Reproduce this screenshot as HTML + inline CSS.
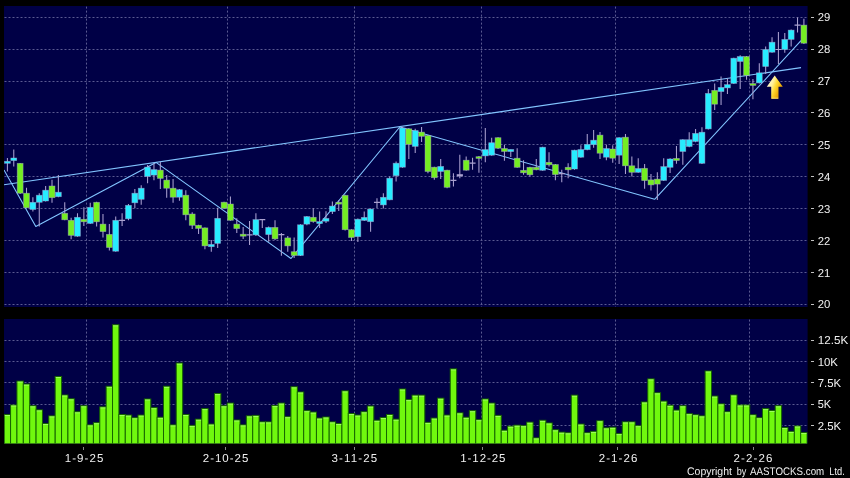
<!DOCTYPE html>
<html><head><meta charset="utf-8"><title>Chart</title><style>html,body{margin:0;padding:0;background:#000;overflow:hidden}body{width:850px;height:478px;font-family:"Liberation Sans",sans-serif}</style></head><body>
<svg width="850" height="478" viewBox="0 0 850 478" style="display:block">
<defs><linearGradient id="ag" gradientUnits="userSpaceOnUse" x1="767" y1="84" x2="782.5" y2="90"><stop offset="0" stop-color="#fff9cc"/><stop offset="0.3" stop-color="#fff09a"/><stop offset="0.52" stop-color="#ffda34"/><stop offset="0.78" stop-color="#efb00c"/><stop offset="1" stop-color="#d89000"/></linearGradient>
<clipPath id="c1"><rect x="4" y="6" width="803.6" height="301"/></clipPath><clipPath id="c2"><rect x="4" y="319" width="803.6" height="124.5"/></clipPath></defs>
<rect width="850" height="478" fill="#000"/>
<rect x="4" y="6" width="803.6" height="301" fill="#000046"/>
<rect x="4" y="319" width="803.6" height="124.5" fill="#000046"/>
<g stroke="#9c9cc8" stroke-width="1" stroke-dasharray="2 2" fill="none" opacity="0.58">
<path d="M4.5 304.5H807.6"/>
<path d="M4.5 272.5H807.6"/>
<path d="M4.5 240.5H807.6"/>
<path d="M4.5 208.5H807.6"/>
<path d="M4.5 176.5H807.6"/>
<path d="M4.5 144.5H807.6"/>
<path d="M4.5 112.5H807.6"/>
<path d="M4.5 81.5H807.6"/>
<path d="M4.5 49.5H807.6"/>
<path d="M4.5 17.5H807.6"/>
<path d="M4.5 340.5H807.6"/>
<path d="M4.5 361.5H807.6"/>
<path d="M4.5 382.5H807.6"/>
<path d="M4.5 404.5H807.6"/>
<path d="M4.5 425.5H807.6"/>
<path d="M86.5 6.6V307" shape-rendering="auto"/>
<path d="M86.5 319.6V443.5" shape-rendering="auto"/>
<path d="M227.5 6.6V307" shape-rendering="auto"/>
<path d="M227.5 319.6V443.5" shape-rendering="auto"/>
<path d="M354.5 6.6V307" shape-rendering="auto"/>
<path d="M354.5 319.6V443.5" shape-rendering="auto"/>
<path d="M481.5 6.6V307" shape-rendering="auto"/>
<path d="M481.5 319.6V443.5" shape-rendering="auto"/>
<path d="M615.5 6.6V307" shape-rendering="auto"/>
<path d="M615.5 319.6V443.5" shape-rendering="auto"/>
<path d="M749.5 6.6V307" shape-rendering="auto"/>
<path d="M749.5 319.6V443.5" shape-rendering="auto"/>
</g>
<g clip-path="url(#c2)" fill="#70f80e" stroke="#166400" stroke-width="1">
<rect x="4.20" y="414.5" width="6.4" height="45.5"/>
<rect x="10.57" y="405.0" width="6.4" height="55.0"/>
<rect x="16.94" y="381.1" width="6.4" height="78.9"/>
<rect x="23.32" y="384.1" width="6.4" height="75.9"/>
<rect x="29.69" y="405.8" width="6.4" height="54.2"/>
<rect x="36.06" y="409.9" width="6.4" height="50.1"/>
<rect x="42.43" y="423.5" width="6.4" height="36.5"/>
<rect x="48.80" y="415.9" width="6.4" height="44.1"/>
<rect x="55.18" y="376.5" width="6.4" height="83.5"/>
<rect x="61.55" y="395.0" width="6.4" height="65.0"/>
<rect x="67.92" y="398.8" width="6.4" height="61.2"/>
<rect x="74.29" y="411.8" width="6.4" height="48.2"/>
<rect x="80.66" y="405.8" width="6.4" height="54.2"/>
<rect x="87.04" y="424.9" width="6.4" height="35.1"/>
<rect x="93.41" y="422.7" width="6.4" height="37.3"/>
<rect x="99.78" y="406.9" width="6.4" height="53.1"/>
<rect x="106.15" y="386.3" width="6.4" height="73.7"/>
<rect x="112.52" y="324.8" width="6.4" height="135.2"/>
<rect x="118.90" y="414.5" width="6.4" height="45.5"/>
<rect x="125.27" y="415.1" width="6.4" height="44.9"/>
<rect x="131.64" y="417.8" width="6.4" height="42.2"/>
<rect x="138.01" y="415.1" width="6.4" height="44.9"/>
<rect x="144.38" y="399.0" width="6.4" height="61.0"/>
<rect x="150.76" y="407.7" width="6.4" height="52.3"/>
<rect x="157.13" y="417.3" width="6.4" height="42.7"/>
<rect x="163.50" y="386.3" width="6.4" height="73.7"/>
<rect x="169.87" y="424.9" width="6.4" height="35.1"/>
<rect x="176.24" y="363.1" width="6.4" height="96.9"/>
<rect x="182.62" y="414.5" width="6.4" height="45.5"/>
<rect x="188.99" y="425.4" width="6.4" height="34.6"/>
<rect x="195.36" y="419.2" width="6.4" height="40.8"/>
<rect x="201.73" y="408.6" width="6.4" height="51.4"/>
<rect x="208.10" y="424.1" width="6.4" height="35.9"/>
<rect x="214.48" y="393.6" width="6.4" height="66.4"/>
<rect x="220.85" y="405.8" width="6.4" height="54.2"/>
<rect x="227.22" y="403.1" width="6.4" height="56.9"/>
<rect x="233.59" y="420.0" width="6.4" height="40.0"/>
<rect x="239.96" y="424.9" width="6.4" height="35.1"/>
<rect x="246.34" y="415.9" width="6.4" height="44.1"/>
<rect x="252.71" y="415.4" width="6.4" height="44.6"/>
<rect x="259.08" y="421.9" width="6.4" height="38.1"/>
<rect x="265.45" y="421.9" width="6.4" height="38.1"/>
<rect x="271.82" y="405.6" width="6.4" height="54.4"/>
<rect x="278.20" y="403.1" width="6.4" height="56.9"/>
<rect x="284.57" y="416.7" width="6.4" height="43.3"/>
<rect x="290.94" y="386.8" width="6.4" height="73.2"/>
<rect x="297.31" y="392.0" width="6.4" height="68.0"/>
<rect x="303.68" y="410.7" width="6.4" height="49.3"/>
<rect x="310.06" y="412.1" width="6.4" height="47.9"/>
<rect x="316.43" y="418.1" width="6.4" height="41.9"/>
<rect x="322.80" y="417.0" width="6.4" height="43.0"/>
<rect x="329.17" y="421.9" width="6.4" height="38.1"/>
<rect x="335.54" y="423.5" width="6.4" height="36.5"/>
<rect x="341.92" y="390.9" width="6.4" height="69.1"/>
<rect x="348.29" y="413.5" width="6.4" height="46.5"/>
<rect x="354.66" y="415.1" width="6.4" height="44.9"/>
<rect x="361.03" y="411.8" width="6.4" height="48.2"/>
<rect x="367.40" y="406.1" width="6.4" height="53.9"/>
<rect x="373.78" y="420.3" width="6.4" height="39.7"/>
<rect x="380.15" y="417.5" width="6.4" height="42.5"/>
<rect x="386.52" y="414.5" width="6.4" height="45.5"/>
<rect x="392.89" y="419.2" width="6.4" height="40.8"/>
<rect x="399.26" y="389.0" width="6.4" height="71.0"/>
<rect x="405.64" y="399.6" width="6.4" height="60.4"/>
<rect x="412.01" y="395.2" width="6.4" height="64.8"/>
<rect x="418.38" y="395.2" width="6.4" height="64.8"/>
<rect x="424.75" y="422.4" width="6.4" height="37.6"/>
<rect x="431.12" y="418.1" width="6.4" height="41.9"/>
<rect x="437.50" y="398.2" width="6.4" height="61.8"/>
<rect x="443.87" y="415.1" width="6.4" height="44.9"/>
<rect x="450.24" y="368.9" width="6.4" height="91.1"/>
<rect x="456.61" y="412.9" width="6.4" height="47.1"/>
<rect x="462.98" y="417.3" width="6.4" height="42.7"/>
<rect x="469.36" y="410.7" width="6.4" height="49.3"/>
<rect x="475.73" y="419.7" width="6.4" height="40.3"/>
<rect x="482.10" y="399.0" width="6.4" height="61.0"/>
<rect x="488.47" y="403.1" width="6.4" height="56.9"/>
<rect x="494.84" y="415.4" width="6.4" height="44.6"/>
<rect x="501.22" y="430.3" width="6.4" height="29.7"/>
<rect x="507.59" y="426.2" width="6.4" height="33.8"/>
<rect x="513.96" y="425.2" width="6.4" height="34.8"/>
<rect x="520.33" y="425.7" width="6.4" height="34.3"/>
<rect x="526.70" y="422.2" width="6.4" height="37.8"/>
<rect x="533.08" y="437.9" width="6.4" height="22.1"/>
<rect x="539.45" y="420.3" width="6.4" height="39.7"/>
<rect x="545.82" y="423.0" width="6.4" height="37.0"/>
<rect x="552.19" y="429.8" width="6.4" height="30.2"/>
<rect x="558.56" y="432.2" width="6.4" height="27.8"/>
<rect x="564.94" y="432.8" width="6.4" height="27.2"/>
<rect x="571.31" y="395.2" width="6.4" height="64.8"/>
<rect x="577.68" y="424.1" width="6.4" height="35.9"/>
<rect x="584.05" y="432.8" width="6.4" height="27.2"/>
<rect x="590.42" y="431.4" width="6.4" height="28.6"/>
<rect x="596.80" y="420.8" width="6.4" height="39.2"/>
<rect x="603.17" y="427.9" width="6.4" height="32.1"/>
<rect x="609.54" y="427.3" width="6.4" height="32.7"/>
<rect x="615.91" y="433.6" width="6.4" height="26.4"/>
<rect x="622.28" y="421.9" width="6.4" height="38.1"/>
<rect x="628.66" y="421.9" width="6.4" height="38.1"/>
<rect x="635.03" y="425.7" width="6.4" height="34.3"/>
<rect x="641.40" y="402.0" width="6.4" height="58.0"/>
<rect x="647.77" y="378.9" width="6.4" height="81.1"/>
<rect x="654.14" y="392.8" width="6.4" height="67.2"/>
<rect x="660.52" y="401.2" width="6.4" height="58.8"/>
<rect x="666.89" y="405.3" width="6.4" height="54.7"/>
<rect x="673.26" y="410.2" width="6.4" height="49.8"/>
<rect x="679.63" y="405.8" width="6.4" height="54.2"/>
<rect x="686.00" y="413.7" width="6.4" height="46.3"/>
<rect x="692.38" y="414.8" width="6.4" height="45.2"/>
<rect x="698.75" y="415.9" width="6.4" height="44.1"/>
<rect x="705.12" y="371.0" width="6.4" height="89.0"/>
<rect x="711.49" y="396.1" width="6.4" height="63.9"/>
<rect x="717.86" y="403.9" width="6.4" height="56.1"/>
<rect x="724.24" y="411.8" width="6.4" height="48.2"/>
<rect x="730.61" y="395.0" width="6.4" height="65.0"/>
<rect x="736.98" y="405.0" width="6.4" height="55.0"/>
<rect x="743.35" y="405.0" width="6.4" height="55.0"/>
<rect x="749.72" y="414.8" width="6.4" height="45.2"/>
<rect x="756.10" y="417.8" width="6.4" height="42.2"/>
<rect x="762.47" y="408.6" width="6.4" height="51.4"/>
<rect x="768.84" y="410.5" width="6.4" height="49.5"/>
<rect x="775.21" y="405.8" width="6.4" height="54.2"/>
<rect x="781.58" y="427.6" width="6.4" height="32.4"/>
<rect x="787.96" y="431.4" width="6.4" height="28.6"/>
<rect x="794.33" y="426.0" width="6.4" height="34.0"/>
<rect x="800.70" y="432.5" width="6.4" height="27.5"/>
</g>
<g clip-path="url(#c2)" stroke="#b4ff8a" stroke-width="1" fill="none" opacity="0.7">
<path d="M4.80 415.5H10.00"/>
<path d="M11.17 406.0H16.37"/>
<path d="M17.54 382.1H22.74"/>
<path d="M23.92 385.1H29.12"/>
<path d="M30.29 406.8H35.49"/>
<path d="M36.66 410.9H41.86"/>
<path d="M43.03 424.5H48.23"/>
<path d="M49.40 416.9H54.60"/>
<path d="M55.78 377.5H60.98"/>
<path d="M62.15 396.0H67.35"/>
<path d="M68.52 399.8H73.72"/>
<path d="M74.89 412.8H80.09"/>
<path d="M81.26 406.8H86.46"/>
<path d="M87.64 425.9H92.84"/>
<path d="M94.01 423.7H99.21"/>
<path d="M100.38 407.9H105.58"/>
<path d="M106.75 387.3H111.95"/>
<path d="M113.12 325.8H118.32"/>
<path d="M119.50 415.5H124.70"/>
<path d="M125.87 416.1H131.07"/>
<path d="M132.24 418.8H137.44"/>
<path d="M138.61 416.1H143.81"/>
<path d="M144.98 400.0H150.18"/>
<path d="M151.36 408.7H156.56"/>
<path d="M157.73 418.3H162.93"/>
<path d="M164.10 387.3H169.30"/>
<path d="M170.47 425.9H175.67"/>
<path d="M176.84 364.1H182.04"/>
<path d="M183.22 415.5H188.42"/>
<path d="M189.59 426.4H194.79"/>
<path d="M195.96 420.2H201.16"/>
<path d="M202.33 409.6H207.53"/>
<path d="M208.70 425.1H213.90"/>
<path d="M215.08 394.6H220.28"/>
<path d="M221.45 406.8H226.65"/>
<path d="M227.82 404.1H233.02"/>
<path d="M234.19 421.0H239.39"/>
<path d="M240.56 425.9H245.76"/>
<path d="M246.94 416.9H252.14"/>
<path d="M253.31 416.4H258.51"/>
<path d="M259.68 422.9H264.88"/>
<path d="M266.05 422.9H271.25"/>
<path d="M272.42 406.6H277.62"/>
<path d="M278.80 404.1H284.00"/>
<path d="M285.17 417.7H290.37"/>
<path d="M291.54 387.8H296.74"/>
<path d="M297.91 393.0H303.11"/>
<path d="M304.28 411.7H309.48"/>
<path d="M310.66 413.1H315.86"/>
<path d="M317.03 419.1H322.23"/>
<path d="M323.40 418.0H328.60"/>
<path d="M329.77 422.9H334.97"/>
<path d="M336.14 424.5H341.34"/>
<path d="M342.52 391.9H347.72"/>
<path d="M348.89 414.5H354.09"/>
<path d="M355.26 416.1H360.46"/>
<path d="M361.63 412.8H366.83"/>
<path d="M368.00 407.1H373.20"/>
<path d="M374.38 421.3H379.58"/>
<path d="M380.75 418.5H385.95"/>
<path d="M387.12 415.5H392.32"/>
<path d="M393.49 420.2H398.69"/>
<path d="M399.86 390.0H405.06"/>
<path d="M406.24 400.6H411.44"/>
<path d="M412.61 396.2H417.81"/>
<path d="M418.98 396.2H424.18"/>
<path d="M425.35 423.4H430.55"/>
<path d="M431.72 419.1H436.92"/>
<path d="M438.10 399.2H443.30"/>
<path d="M444.47 416.1H449.67"/>
<path d="M450.84 369.9H456.04"/>
<path d="M457.21 413.9H462.41"/>
<path d="M463.58 418.3H468.78"/>
<path d="M469.96 411.7H475.16"/>
<path d="M476.33 420.7H481.53"/>
<path d="M482.70 400.0H487.90"/>
<path d="M489.07 404.1H494.27"/>
<path d="M495.44 416.4H500.64"/>
<path d="M501.82 431.3H507.02"/>
<path d="M508.19 427.2H513.39"/>
<path d="M514.56 426.2H519.76"/>
<path d="M520.93 426.7H526.13"/>
<path d="M527.30 423.2H532.50"/>
<path d="M533.68 438.9H538.88"/>
<path d="M540.05 421.3H545.25"/>
<path d="M546.42 424.0H551.62"/>
<path d="M552.79 430.8H557.99"/>
<path d="M559.16 433.2H564.36"/>
<path d="M565.54 433.8H570.74"/>
<path d="M571.91 396.2H577.11"/>
<path d="M578.28 425.1H583.48"/>
<path d="M584.65 433.8H589.85"/>
<path d="M591.02 432.4H596.22"/>
<path d="M597.40 421.8H602.60"/>
<path d="M603.77 428.9H608.97"/>
<path d="M610.14 428.3H615.34"/>
<path d="M616.51 434.6H621.71"/>
<path d="M622.88 422.9H628.08"/>
<path d="M629.26 422.9H634.46"/>
<path d="M635.63 426.7H640.83"/>
<path d="M642.00 403.0H647.20"/>
<path d="M648.37 379.9H653.57"/>
<path d="M654.74 393.8H659.94"/>
<path d="M661.12 402.2H666.32"/>
<path d="M667.49 406.3H672.69"/>
<path d="M673.86 411.2H679.06"/>
<path d="M680.23 406.8H685.43"/>
<path d="M686.60 414.7H691.80"/>
<path d="M692.98 415.8H698.18"/>
<path d="M699.35 416.9H704.55"/>
<path d="M705.72 372.0H710.92"/>
<path d="M712.09 397.1H717.29"/>
<path d="M718.46 404.9H723.66"/>
<path d="M724.84 412.8H730.04"/>
<path d="M731.21 396.0H736.41"/>
<path d="M737.58 406.0H742.78"/>
<path d="M743.95 406.0H749.15"/>
<path d="M750.32 415.8H755.52"/>
<path d="M756.70 418.8H761.90"/>
<path d="M763.07 409.6H768.27"/>
<path d="M769.44 411.5H774.64"/>
<path d="M775.81 406.8H781.01"/>
<path d="M782.18 428.6H787.38"/>
<path d="M788.56 432.4H793.76"/>
<path d="M794.93 427.0H800.13"/>
<path d="M801.30 433.5H806.50"/>
</g>
<g clip-path="url(#c1)" stroke="#82c5ff" stroke-width="1.1" fill="none" stroke-linejoin="round">
<path d="M4 184.7L801 67.6"/>
<path d="M4 170L35.8 226.4L156 162.4L291 258.5L399.8 127L654.6 199.3L801 40.7"/>
</g>
<g clip-path="url(#c1)">
<g stroke="#aaa1d0" stroke-width="1.05" fill="none">
<path d="M7.40 158.0V171.4"/>
<path d="M13.77 149.5V166.4"/>
<path d="M20.14 163.0V194.0"/>
<path d="M26.52 187.7V208.3"/>
<path d="M32.89 197.2V211.5"/>
<path d="M39.26 193.2V226.6"/>
<path d="M45.63 186.0V201.5"/>
<path d="M52.00 179.7V202.8"/>
<path d="M58.38 175.1V197.2"/>
<path d="M64.75 202.3V220.3"/>
<path d="M71.12 217.8V239.2"/>
<path d="M77.49 213.3V236.7"/>
<path d="M83.86 207.3V226.1"/>
<path d="M90.24 202.8V224.1"/>
<path d="M96.61 201.8V226.6"/>
<path d="M102.98 214.0V237.4"/>
<path d="M109.35 224.1V250.5"/>
<path d="M115.72 216.6V251.7"/>
<path d="M122.10 213.3V225.9"/>
<path d="M128.47 204.0V220.3"/>
<path d="M134.84 189.0V208.3"/>
<path d="M141.21 185.2V204.8"/>
<path d="M147.58 165.1V183.2"/>
<path d="M153.96 163.1V180.2"/>
<path d="M160.33 162.1V189.0"/>
<path d="M166.70 175.1V197.7"/>
<path d="M173.07 178.9V202.7"/>
<path d="M179.44 189.0V200.7"/>
<path d="M185.82 190.2V220.3"/>
<path d="M192.19 212.3V229.1"/>
<path d="M198.56 224.8V234.1"/>
<path d="M204.93 227.4V249.2"/>
<path d="M211.30 239.9V251.7"/>
<path d="M217.68 207.8V247.9"/>
<path d="M224.05 201.7V209.0"/>
<path d="M230.42 196.5V220.8"/>
<path d="M236.79 218.3V232.9"/>
<path d="M243.16 227.0V239.0"/>
<path d="M249.54 221.1V244.9"/>
<path d="M255.91 213.3V235.9"/>
<path d="M262.28 219.6V227.9"/>
<path d="M268.65 226.6V241.7"/>
<path d="M275.02 220.3V239.9"/>
<path d="M281.40 233.0V255.7"/>
<path d="M287.77 235.9V251.7"/>
<path d="M294.14 237.4V258.0"/>
<path d="M300.51 224.3V256.0"/>
<path d="M306.88 216.0V225.3"/>
<path d="M313.26 208.3V222.8"/>
<path d="M319.63 211.5V227.9"/>
<path d="M326.00 211.2V223.1"/>
<path d="M332.37 201.6V214.1"/>
<path d="M338.74 200.3V210.9"/>
<path d="M345.12 194.8V230.5"/>
<path d="M351.49 229.2V241.0"/>
<path d="M357.86 218.4V242.0"/>
<path d="M364.23 211.6V220.9"/>
<path d="M370.60 208.4V231.7"/>
<path d="M376.98 198.3V207.9"/>
<path d="M383.35 193.3V208.4"/>
<path d="M389.72 176.5V200.3"/>
<path d="M396.09 161.4V181.5"/>
<path d="M402.46 127.0V167.7"/>
<path d="M408.84 128.0V158.9"/>
<path d="M415.21 128.8V153.1"/>
<path d="M421.58 127.0V142.1"/>
<path d="M427.95 135.1V173.2"/>
<path d="M434.32 166.7V179.8"/>
<path d="M440.70 158.9V179.0"/>
<path d="M447.07 169.7V188.3"/>
<path d="M453.44 173.2V186.5"/>
<path d="M459.81 154.8V178.2"/>
<path d="M466.18 156.4V170.7"/>
<path d="M472.56 157.7V169.7"/>
<path d="M478.93 155.9V172.7"/>
<path d="M485.30 128.0V162.2"/>
<path d="M491.67 137.7V155.7"/>
<path d="M498.04 137.2V149.0"/>
<path d="M504.42 144.7V160.8"/>
<path d="M510.79 149.4V157.0"/>
<path d="M517.16 148.2V167.8"/>
<path d="M523.53 160.3V174.8"/>
<path d="M529.90 166.8V176.6"/>
<path d="M536.28 159.0V170.3"/>
<path d="M542.65 146.7V170.8"/>
<path d="M549.02 152.2V166.5"/>
<path d="M555.39 164.0V180.3"/>
<path d="M561.76 169.8V182.3"/>
<path d="M568.14 163.3V178.3"/>
<path d="M574.51 149.7V169.8"/>
<path d="M580.88 145.2V157.7"/>
<path d="M587.25 133.9V150.2"/>
<path d="M593.62 130.1V147.7"/>
<path d="M600.00 131.9V159.0"/>
<path d="M606.37 144.7V160.3"/>
<path d="M612.74 145.2V162.8"/>
<path d="M619.11 137.2V164.0"/>
<path d="M625.48 133.9V174.1"/>
<path d="M631.86 156.5V176.6"/>
<path d="M638.23 158.2V172.8"/>
<path d="M644.60 164.0V188.8"/>
<path d="M650.97 174.1V190.4"/>
<path d="M657.34 172.3V200.0"/>
<path d="M663.72 158.3V180.9"/>
<path d="M670.09 158.3V172.9"/>
<path d="M676.46 145.9V163.8"/>
<path d="M682.83 139.2V164.8"/>
<path d="M689.20 132.2V147.2"/>
<path d="M695.58 128.9V142.2"/>
<path d="M701.95 127.2V164.1"/>
<path d="M708.32 89.1V129.4"/>
<path d="M714.69 83.4V110.0"/>
<path d="M721.06 76.6V105.0"/>
<path d="M727.44 78.3V94.1"/>
<path d="M733.81 57.7V84.1"/>
<path d="M740.18 55.2V89.1"/>
<path d="M746.55 56.0V79.8"/>
<path d="M752.92 79.1V99.2"/>
<path d="M759.30 63.3V83.4"/>
<path d="M765.67 46.4V74.1"/>
<path d="M772.04 37.2V52.7"/>
<path d="M778.41 32.1V64.0"/>
<path d="M784.78 33.1V52.7"/>
<path d="M791.16 29.6V46.4"/>
<path d="M797.53 17.6V32.6"/>
<path d="M803.90 18.8V43.9"/>
</g>
<rect x="4.45" y="161.3" width="5.9" height="2.0" fill="#27ecff" stroke="#aaa1d0" stroke-opacity="0.6" stroke-width="0.7"/>
<rect x="10.82" y="158.0" width="5.9" height="2.6" fill="#27ecff" stroke="#aaa1d0" stroke-opacity="0.6" stroke-width="0.7"/>
<rect x="17.19" y="163.3" width="5.9" height="29.9" fill="#74ee22" stroke="#aaa1d0" stroke-opacity="0.6" stroke-width="0.7"/>
<rect x="23.57" y="193.2" width="5.9" height="14.6" fill="#74ee22" stroke="#aaa1d0" stroke-opacity="0.6" stroke-width="0.7"/>
<rect x="29.94" y="202.3" width="5.9" height="7.2" fill="#27ecff" stroke="#aaa1d0" stroke-opacity="0.6" stroke-width="0.7"/>
<rect x="36.31" y="195.2" width="5.9" height="7.1" fill="#27ecff" stroke="#aaa1d0" stroke-opacity="0.6" stroke-width="0.7"/>
<rect x="42.68" y="190.2" width="5.9" height="10.8" fill="#27ecff" stroke="#aaa1d0" stroke-opacity="0.6" stroke-width="0.7"/>
<rect x="49.05" y="186.0" width="5.9" height="11.7" fill="#74ee22" stroke="#aaa1d0" stroke-opacity="0.6" stroke-width="0.7"/>
<rect x="55.43" y="192.2" width="5.9" height="4.5" fill="#27ecff" stroke="#aaa1d0" stroke-opacity="0.6" stroke-width="0.7"/>
<rect x="61.80" y="213.3" width="5.9" height="6.5" fill="#74ee22" stroke="#aaa1d0" stroke-opacity="0.6" stroke-width="0.7"/>
<rect x="68.17" y="220.3" width="5.9" height="15.1" fill="#74ee22" stroke="#aaa1d0" stroke-opacity="0.6" stroke-width="0.7"/>
<rect x="74.54" y="217.3" width="5.9" height="18.9" fill="#27ecff" stroke="#aaa1d0" stroke-opacity="0.6" stroke-width="0.7"/>
<rect x="80.91" y="219.3" width="5.9" height="2.5" fill="#74ee22" stroke="#aaa1d0" stroke-opacity="0.6" stroke-width="0.7"/>
<rect x="87.29" y="207.3" width="5.9" height="16.1" fill="#27ecff" stroke="#aaa1d0" stroke-opacity="0.6" stroke-width="0.7"/>
<rect x="93.66" y="202.3" width="5.9" height="19.5" fill="#74ee22" stroke="#aaa1d0" stroke-opacity="0.6" stroke-width="0.7"/>
<rect x="100.03" y="224.1" width="5.9" height="7.5" fill="#74ee22" stroke="#aaa1d0" stroke-opacity="0.6" stroke-width="0.7"/>
<rect x="106.40" y="234.4" width="5.9" height="13.1" fill="#74ee22" stroke="#aaa1d0" stroke-opacity="0.6" stroke-width="0.7"/>
<rect x="112.77" y="220.3" width="5.9" height="30.9" fill="#27ecff" stroke="#aaa1d0" stroke-opacity="0.6" stroke-width="0.7"/>
<path d="M119.10 220.3H125.10" stroke="#aaa1d0" stroke-width="1.2"/>
<rect x="125.52" y="205.3" width="5.9" height="13.5" fill="#27ecff" stroke="#aaa1d0" stroke-opacity="0.6" stroke-width="0.7"/>
<rect x="131.89" y="193.2" width="5.9" height="9.6" fill="#27ecff" stroke="#aaa1d0" stroke-opacity="0.6" stroke-width="0.7"/>
<rect x="138.26" y="188.2" width="5.9" height="11.1" fill="#27ecff" stroke="#aaa1d0" stroke-opacity="0.6" stroke-width="0.7"/>
<rect x="144.63" y="167.1" width="5.9" height="9.3" fill="#27ecff" stroke="#aaa1d0" stroke-opacity="0.6" stroke-width="0.7"/>
<rect x="151.01" y="169.6" width="5.9" height="5.5" fill="#27ecff" stroke="#aaa1d0" stroke-opacity="0.6" stroke-width="0.7"/>
<rect x="157.38" y="170.1" width="5.9" height="8.3" fill="#74ee22" stroke="#aaa1d0" stroke-opacity="0.6" stroke-width="0.7"/>
<rect x="163.75" y="180.1" width="5.9" height="8.1" fill="#74ee22" stroke="#aaa1d0" stroke-opacity="0.6" stroke-width="0.7"/>
<rect x="170.12" y="188.2" width="5.9" height="9.0" fill="#74ee22" stroke="#aaa1d0" stroke-opacity="0.6" stroke-width="0.7"/>
<rect x="176.49" y="189.7" width="5.9" height="7.5" fill="#27ecff" stroke="#aaa1d0" stroke-opacity="0.6" stroke-width="0.7"/>
<rect x="182.87" y="195.2" width="5.9" height="19.6" fill="#74ee22" stroke="#aaa1d0" stroke-opacity="0.6" stroke-width="0.7"/>
<rect x="189.24" y="214.0" width="5.9" height="11.3" fill="#74ee22" stroke="#aaa1d0" stroke-opacity="0.6" stroke-width="0.7"/>
<rect x="195.61" y="225.3" width="5.9" height="3.1" fill="#74ee22" stroke="#aaa1d0" stroke-opacity="0.6" stroke-width="0.7"/>
<rect x="201.98" y="227.9" width="5.9" height="18.0" fill="#74ee22" stroke="#aaa1d0" stroke-opacity="0.6" stroke-width="0.7"/>
<rect x="208.35" y="244.4" width="5.9" height="2.3" fill="#27ecff" stroke="#aaa1d0" stroke-opacity="0.6" stroke-width="0.7"/>
<rect x="214.73" y="218.3" width="5.9" height="25.1" fill="#27ecff" stroke="#aaa1d0" stroke-opacity="0.6" stroke-width="0.7"/>
<rect x="221.10" y="202.2" width="5.9" height="6.1" fill="#74ee22" stroke="#aaa1d0" stroke-opacity="0.6" stroke-width="0.7"/>
<rect x="227.47" y="204.0" width="5.9" height="16.3" fill="#74ee22" stroke="#aaa1d0" stroke-opacity="0.6" stroke-width="0.7"/>
<rect x="233.84" y="224.1" width="5.9" height="4.5" fill="#74ee22" stroke="#aaa1d0" stroke-opacity="0.6" stroke-width="0.7"/>
<rect x="240.21" y="234.2" width="5.9" height="2.0" fill="#74ee22" stroke="#aaa1d0" stroke-opacity="0.6" stroke-width="0.7"/>
<path d="M246.54 234.8H252.54" stroke="#aaa1d0" stroke-width="1.2"/>
<rect x="252.96" y="219.6" width="5.9" height="15.3" fill="#27ecff" stroke="#aaa1d0" stroke-opacity="0.6" stroke-width="0.7"/>
<path d="M259.28 219.6H265.28" stroke="#aaa1d0" stroke-width="1.2"/>
<rect x="265.70" y="227.4" width="5.9" height="7.2" fill="#27ecff" stroke="#aaa1d0" stroke-opacity="0.6" stroke-width="0.7"/>
<rect x="272.07" y="227.4" width="5.9" height="11.5" fill="#74ee22" stroke="#aaa1d0" stroke-opacity="0.6" stroke-width="0.7"/>
<path d="M278.40 234.6H284.40" stroke="#aaa1d0" stroke-width="1.2"/>
<rect x="284.82" y="237.9" width="5.9" height="8.0" fill="#74ee22" stroke="#aaa1d0" stroke-opacity="0.6" stroke-width="0.7"/>
<rect x="291.19" y="251.7" width="5.9" height="3.8" fill="#74ee22" stroke="#aaa1d0" stroke-opacity="0.6" stroke-width="0.7"/>
<rect x="297.56" y="224.8" width="5.9" height="30.7" fill="#27ecff" stroke="#aaa1d0" stroke-opacity="0.6" stroke-width="0.7"/>
<rect x="303.93" y="216.6" width="5.9" height="7.5" fill="#27ecff" stroke="#aaa1d0" stroke-opacity="0.6" stroke-width="0.7"/>
<rect x="310.31" y="217.3" width="5.9" height="4.3" fill="#74ee22" stroke="#aaa1d0" stroke-opacity="0.6" stroke-width="0.7"/>
<rect x="316.68" y="221.6" width="5.9" height="2.0" fill="#27ecff" stroke="#aaa1d0" stroke-opacity="0.6" stroke-width="0.7"/>
<rect x="323.05" y="218.4" width="5.9" height="2.8" fill="#27ecff" stroke="#aaa1d0" stroke-opacity="0.6" stroke-width="0.7"/>
<rect x="329.42" y="206.1" width="5.9" height="5.5" fill="#27ecff" stroke="#aaa1d0" stroke-opacity="0.6" stroke-width="0.7"/>
<rect x="335.79" y="202.3" width="5.9" height="1.8" fill="#74ee22" stroke="#aaa1d0" stroke-opacity="0.6" stroke-width="0.7"/>
<rect x="342.17" y="195.3" width="5.9" height="34.4" fill="#74ee22" stroke="#aaa1d0" stroke-opacity="0.6" stroke-width="0.7"/>
<rect x="348.54" y="229.7" width="5.9" height="7.8" fill="#74ee22" stroke="#aaa1d0" stroke-opacity="0.6" stroke-width="0.7"/>
<rect x="354.91" y="219.2" width="5.9" height="17.5" fill="#27ecff" stroke="#aaa1d0" stroke-opacity="0.6" stroke-width="0.7"/>
<rect x="361.28" y="217.4" width="5.9" height="3.0" fill="#27ecff" stroke="#aaa1d0" stroke-opacity="0.6" stroke-width="0.7"/>
<rect x="367.65" y="209.1" width="5.9" height="12.6" fill="#27ecff" stroke="#aaa1d0" stroke-opacity="0.6" stroke-width="0.7"/>
<path d="M373.98 202.3H379.98" stroke="#aaa1d0" stroke-width="1.2"/>
<rect x="380.40" y="197.3" width="5.9" height="7.6" fill="#27ecff" stroke="#aaa1d0" stroke-opacity="0.6" stroke-width="0.7"/>
<rect x="386.77" y="178.2" width="5.9" height="21.6" fill="#27ecff" stroke="#aaa1d0" stroke-opacity="0.6" stroke-width="0.7"/>
<rect x="393.14" y="163.2" width="5.9" height="12.5" fill="#27ecff" stroke="#aaa1d0" stroke-opacity="0.6" stroke-width="0.7"/>
<rect x="399.51" y="128.0" width="5.9" height="39.2" fill="#27ecff" stroke="#aaa1d0" stroke-opacity="0.6" stroke-width="0.7"/>
<rect x="405.89" y="128.8" width="5.9" height="15.6" fill="#74ee22" stroke="#aaa1d0" stroke-opacity="0.6" stroke-width="0.7"/>
<rect x="412.26" y="130.5" width="5.9" height="15.9" fill="#27ecff" stroke="#aaa1d0" stroke-opacity="0.6" stroke-width="0.7"/>
<rect x="418.63" y="132.1" width="5.9" height="4.2" fill="#74ee22" stroke="#aaa1d0" stroke-opacity="0.6" stroke-width="0.7"/>
<rect x="425.00" y="135.6" width="5.9" height="35.9" fill="#74ee22" stroke="#aaa1d0" stroke-opacity="0.6" stroke-width="0.7"/>
<rect x="431.37" y="167.2" width="5.9" height="10.5" fill="#74ee22" stroke="#aaa1d0" stroke-opacity="0.6" stroke-width="0.7"/>
<rect x="437.75" y="166.4" width="5.9" height="5.1" fill="#27ecff" stroke="#aaa1d0" stroke-opacity="0.6" stroke-width="0.7"/>
<rect x="444.12" y="170.2" width="5.9" height="17.1" fill="#74ee22" stroke="#aaa1d0" stroke-opacity="0.6" stroke-width="0.7"/>
<path d="M450.44 180.3H456.44" stroke="#aaa1d0" stroke-width="1.2"/>
<rect x="456.71" y="174.2" width="6.2" height="2.1" fill="#aaa1d0"/>
<rect x="463.23" y="160.2" width="5.9" height="10.0" fill="#74ee22" stroke="#aaa1d0" stroke-opacity="0.6" stroke-width="0.7"/>
<path d="M469.56 163.2H475.56" stroke="#aaa1d0" stroke-width="1.2"/>
<rect x="475.98" y="156.7" width="5.9" height="1.7" fill="#74ee22" stroke="#aaa1d0" stroke-opacity="0.6" stroke-width="0.7"/>
<rect x="482.35" y="149.6" width="5.9" height="6.3" fill="#27ecff" stroke="#aaa1d0" stroke-opacity="0.6" stroke-width="0.7"/>
<rect x="488.72" y="142.7" width="5.9" height="12.5" fill="#27ecff" stroke="#aaa1d0" stroke-opacity="0.6" stroke-width="0.7"/>
<rect x="495.09" y="137.7" width="5.9" height="10.5" fill="#74ee22" stroke="#aaa1d0" stroke-opacity="0.6" stroke-width="0.7"/>
<rect x="501.47" y="148.5" width="5.9" height="3.0" fill="#74ee22" stroke="#aaa1d0" stroke-opacity="0.6" stroke-width="0.7"/>
<rect x="507.84" y="149.4" width="5.9" height="2.2" fill="#27ecff" stroke="#aaa1d0" stroke-opacity="0.6" stroke-width="0.7"/>
<rect x="514.21" y="158.2" width="5.9" height="9.1" fill="#74ee22" stroke="#aaa1d0" stroke-opacity="0.6" stroke-width="0.7"/>
<rect x="520.58" y="170.3" width="5.9" height="2.5" fill="#74ee22" stroke="#aaa1d0" stroke-opacity="0.6" stroke-width="0.7"/>
<rect x="526.95" y="167.3" width="5.9" height="7.5" fill="#74ee22" stroke="#aaa1d0" stroke-opacity="0.6" stroke-width="0.7"/>
<rect x="533.33" y="167.3" width="5.9" height="2.5" fill="#74ee22" stroke="#aaa1d0" stroke-opacity="0.6" stroke-width="0.7"/>
<rect x="539.70" y="147.2" width="5.9" height="23.1" fill="#27ecff" stroke="#aaa1d0" stroke-opacity="0.6" stroke-width="0.7"/>
<rect x="546.07" y="162.3" width="5.9" height="2.5" fill="#74ee22" stroke="#aaa1d0" stroke-opacity="0.6" stroke-width="0.7"/>
<rect x="552.44" y="164.5" width="5.9" height="10.1" fill="#74ee22" stroke="#aaa1d0" stroke-opacity="0.6" stroke-width="0.7"/>
<path d="M558.76 173.6H564.76" stroke="#aaa1d0" stroke-width="1.2"/>
<rect x="565.19" y="167.3" width="5.9" height="2.5" fill="#74ee22" stroke="#aaa1d0" stroke-opacity="0.6" stroke-width="0.7"/>
<rect x="571.56" y="150.2" width="5.9" height="18.8" fill="#27ecff" stroke="#aaa1d0" stroke-opacity="0.6" stroke-width="0.7"/>
<rect x="577.93" y="149.5" width="5.9" height="7.7" fill="#27ecff" stroke="#aaa1d0" stroke-opacity="0.6" stroke-width="0.7"/>
<rect x="584.30" y="144.4" width="5.9" height="5.3" fill="#27ecff" stroke="#aaa1d0" stroke-opacity="0.6" stroke-width="0.7"/>
<rect x="590.67" y="140.2" width="5.9" height="4.5" fill="#27ecff" stroke="#aaa1d0" stroke-opacity="0.6" stroke-width="0.7"/>
<rect x="597.05" y="135.1" width="5.9" height="18.1" fill="#74ee22" stroke="#aaa1d0" stroke-opacity="0.6" stroke-width="0.7"/>
<rect x="603.42" y="148.5" width="5.9" height="8.7" fill="#27ecff" stroke="#aaa1d0" stroke-opacity="0.6" stroke-width="0.7"/>
<rect x="609.79" y="149.0" width="5.9" height="9.2" fill="#74ee22" stroke="#aaa1d0" stroke-opacity="0.6" stroke-width="0.7"/>
<rect x="616.16" y="137.7" width="5.9" height="17.5" fill="#27ecff" stroke="#aaa1d0" stroke-opacity="0.6" stroke-width="0.7"/>
<rect x="622.53" y="137.2" width="5.9" height="28.6" fill="#74ee22" stroke="#aaa1d0" stroke-opacity="0.6" stroke-width="0.7"/>
<rect x="628.91" y="165.8" width="5.9" height="6.5" fill="#74ee22" stroke="#aaa1d0" stroke-opacity="0.6" stroke-width="0.7"/>
<rect x="635.28" y="168.5" width="5.9" height="3.8" fill="#27ecff" stroke="#aaa1d0" stroke-opacity="0.6" stroke-width="0.7"/>
<rect x="641.65" y="168.3" width="5.9" height="12.3" fill="#74ee22" stroke="#aaa1d0" stroke-opacity="0.6" stroke-width="0.7"/>
<rect x="648.02" y="179.9" width="5.9" height="5.0" fill="#74ee22" stroke="#aaa1d0" stroke-opacity="0.6" stroke-width="0.7"/>
<rect x="654.39" y="179.1" width="5.9" height="5.0" fill="#74ee22" stroke="#aaa1d0" stroke-opacity="0.6" stroke-width="0.7"/>
<rect x="660.77" y="166.6" width="5.9" height="13.8" fill="#27ecff" stroke="#aaa1d0" stroke-opacity="0.6" stroke-width="0.7"/>
<rect x="667.14" y="159.0" width="5.9" height="8.3" fill="#27ecff" stroke="#aaa1d0" stroke-opacity="0.6" stroke-width="0.7"/>
<rect x="673.51" y="158.4" width="5.9" height="2.1" fill="#74ee22" stroke="#aaa1d0" stroke-opacity="0.6" stroke-width="0.7"/>
<rect x="679.88" y="139.7" width="5.9" height="11.8" fill="#27ecff" stroke="#aaa1d0" stroke-opacity="0.6" stroke-width="0.7"/>
<rect x="686.25" y="139.7" width="5.9" height="6.8" fill="#27ecff" stroke="#aaa1d0" stroke-opacity="0.6" stroke-width="0.7"/>
<rect x="692.63" y="133.4" width="5.9" height="8.1" fill="#27ecff" stroke="#aaa1d0" stroke-opacity="0.6" stroke-width="0.7"/>
<rect x="699.00" y="132.2" width="5.9" height="31.1" fill="#27ecff" stroke="#aaa1d0" stroke-opacity="0.6" stroke-width="0.7"/>
<rect x="705.37" y="93.4" width="5.9" height="35.5" fill="#27ecff" stroke="#aaa1d0" stroke-opacity="0.6" stroke-width="0.7"/>
<rect x="711.74" y="90.4" width="5.9" height="13.8" fill="#74ee22" stroke="#aaa1d0" stroke-opacity="0.6" stroke-width="0.7"/>
<rect x="718.11" y="87.4" width="5.9" height="4.2" fill="#27ecff" stroke="#aaa1d0" stroke-opacity="0.6" stroke-width="0.7"/>
<rect x="724.49" y="84.6" width="5.9" height="3.3" fill="#27ecff" stroke="#aaa1d0" stroke-opacity="0.6" stroke-width="0.7"/>
<rect x="730.86" y="58.2" width="5.9" height="25.2" fill="#27ecff" stroke="#aaa1d0" stroke-opacity="0.6" stroke-width="0.7"/>
<rect x="737.23" y="56.5" width="5.9" height="5.0" fill="#27ecff" stroke="#aaa1d0" stroke-opacity="0.6" stroke-width="0.7"/>
<rect x="743.60" y="56.5" width="5.9" height="18.8" fill="#74ee22" stroke="#aaa1d0" stroke-opacity="0.6" stroke-width="0.7"/>
<rect x="749.97" y="83.6" width="5.9" height="1.8" fill="#74ee22" stroke="#aaa1d0" stroke-opacity="0.6" stroke-width="0.7"/>
<rect x="756.35" y="72.8" width="5.9" height="10.1" fill="#27ecff" stroke="#aaa1d0" stroke-opacity="0.6" stroke-width="0.7"/>
<rect x="762.72" y="49.5" width="5.9" height="17.0" fill="#27ecff" stroke="#aaa1d0" stroke-opacity="0.6" stroke-width="0.7"/>
<rect x="769.09" y="42.2" width="5.9" height="10.0" fill="#27ecff" stroke="#aaa1d0" stroke-opacity="0.6" stroke-width="0.7"/>
<path d="M775.41 49.5H781.41" stroke="#aaa1d0" stroke-width="1.2"/>
<rect x="781.83" y="39.4" width="5.9" height="10.1" fill="#27ecff" stroke="#aaa1d0" stroke-opacity="0.6" stroke-width="0.7"/>
<rect x="788.21" y="30.1" width="5.9" height="9.3" fill="#27ecff" stroke="#aaa1d0" stroke-opacity="0.6" stroke-width="0.7"/>
<path d="M794.53 25.1H800.53" stroke="#aaa1d0" stroke-width="1.2"/>
<rect x="800.95" y="25.1" width="5.9" height="18.1" fill="#74ee22" stroke="#aaa1d0" stroke-opacity="0.6" stroke-width="0.7"/>
</g>
<path d="M774.7 75.4L782.8 86.8H778.5V98.8H771.2V86.8H766.8L774.7 75.4Z" fill="url(#ag)"/><path d="M771.6 98.2H778.2" stroke="#ffe880" stroke-width="1" opacity="0.8"/>
<g font-family="Liberation Sans, sans-serif" font-size="11.5px" fill="#f4f4f4" style="opacity:0.99;will-change:opacity" text-rendering="geometricPrecision">
<path d="M811 304.5H814" stroke="#c4c4c4" stroke-width="1"/>
<text x="817.7" y="308" textLength="12.6" lengthAdjust="spacingAndGlyphs">20</text>
<path d="M811 272.5H814" stroke="#c4c4c4" stroke-width="1"/>
<text x="817.7" y="277" textLength="12.6" lengthAdjust="spacingAndGlyphs">21</text>
<path d="M811 240.5H814" stroke="#c4c4c4" stroke-width="1"/>
<text x="817.7" y="245" textLength="12.6" lengthAdjust="spacingAndGlyphs">22</text>
<path d="M811 208.5H814" stroke="#c4c4c4" stroke-width="1"/>
<text x="817.7" y="213" textLength="12.6" lengthAdjust="spacingAndGlyphs">23</text>
<path d="M811 176.5H814" stroke="#c4c4c4" stroke-width="1"/>
<text x="817.7" y="181" textLength="12.6" lengthAdjust="spacingAndGlyphs">24</text>
<path d="M811 144.5H814" stroke="#c4c4c4" stroke-width="1"/>
<text x="817.7" y="149" textLength="12.6" lengthAdjust="spacingAndGlyphs">25</text>
<path d="M811 112.5H814" stroke="#c4c4c4" stroke-width="1"/>
<text x="817.7" y="117" textLength="12.6" lengthAdjust="spacingAndGlyphs">26</text>
<path d="M811 81.5H814" stroke="#c4c4c4" stroke-width="1"/>
<text x="817.7" y="85" textLength="12.6" lengthAdjust="spacingAndGlyphs">27</text>
<path d="M811 49.5H814" stroke="#c4c4c4" stroke-width="1"/>
<text x="817.7" y="53" textLength="12.6" lengthAdjust="spacingAndGlyphs">28</text>
<path d="M811 17.5H814" stroke="#c4c4c4" stroke-width="1"/>
<text x="817.7" y="21" textLength="12.6" lengthAdjust="spacingAndGlyphs">29</text>
<path d="M811 340.5H814" stroke="#c4c4c4" stroke-width="1"/>
<text x="817.7" y="344" textLength="30.5" lengthAdjust="spacingAndGlyphs">12.5K</text>
<path d="M811 361.5H814" stroke="#c4c4c4" stroke-width="1"/>
<text x="817.7" y="366" textLength="20.3" lengthAdjust="spacingAndGlyphs">10K</text>
<path d="M811 382.5H814" stroke="#c4c4c4" stroke-width="1"/>
<text x="817.7" y="387" textLength="23.4" lengthAdjust="spacingAndGlyphs">7.5K</text>
<path d="M811 404.5H814" stroke="#c4c4c4" stroke-width="1"/>
<text x="817.7" y="408" textLength="13.4" lengthAdjust="spacingAndGlyphs">5K</text>
<path d="M811 425.5H814" stroke="#c4c4c4" stroke-width="1"/>
<text x="817.7" y="430" textLength="23.5" lengthAdjust="spacingAndGlyphs">2.5K</text>
<path d="M83.5 447V450" stroke="#8c8c8c" stroke-width="1"/>
<text x="64.7" y="462.1" textLength="38.6" lengthAdjust="spacing">1-9-25</text>
<path d="M225.5 447V450" stroke="#8c8c8c" stroke-width="1"/>
<text x="202.8" y="462.1" textLength="45.5" lengthAdjust="spacing">2-10-25</text>
<path d="M354.5 447V450" stroke="#8c8c8c" stroke-width="1"/>
<text x="331.6" y="462.1" textLength="45.5" lengthAdjust="spacing">3-11-25</text>
<path d="M482.5 447V450" stroke="#8c8c8c" stroke-width="1"/>
<text x="460.2" y="462.1" textLength="45.3" lengthAdjust="spacing">1-12-25</text>
<path d="M617.5 447V450" stroke="#8c8c8c" stroke-width="1"/>
<text x="598.7" y="462.1" textLength="38.6" lengthAdjust="spacing">2-1-26</text>
<path d="M753.5 447V450" stroke="#8c8c8c" stroke-width="1"/>
<text x="733.6" y="462.1" textLength="38.7" lengthAdjust="spacing">2-2-26</text>
<text x="687" y="474.5" font-size="11px" textLength="44.9" lengthAdjust="spacingAndGlyphs">Copyright</text>
<text x="736.7" y="474.5" font-size="11px" textLength="9.6" lengthAdjust="spacingAndGlyphs">by</text>
<text x="750.1" y="474.5" font-size="11px" textLength="74.1" lengthAdjust="spacingAndGlyphs">AASTOCKS.com</text>
<text x="829.3" y="474.5" font-size="11px" textLength="15.5" lengthAdjust="spacingAndGlyphs">Ltd.</text>
</g>
</svg>
</body></html>
